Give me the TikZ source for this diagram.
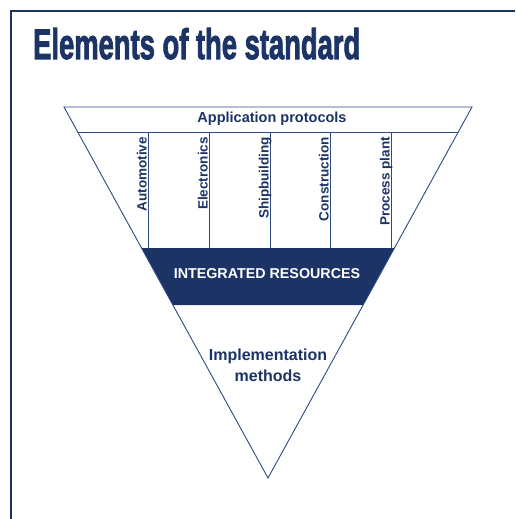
\documentclass[tikz,border=0pt]{standalone}
\usepackage{fontspec}
\setmainfont{Liberation Sans}
\newfontfamily\titlefont[FakeBold=2.5]{Liberation Sans Bold}
\usetikzlibrary{calc}
\definecolor{navy}{HTML}{1C3366}
\definecolor{lineblue}{HTML}{2C4A80}
\tikzset{
  edge/.style={draw=lineblue, line width=0.9pt},
  sector/.style={rotate=90, anchor=base east, inner sep=0pt, text=navy,
    font=\fontsize{13.5}{15}\selectfont\bfseries},
}
\begin{document}
\begin{tikzpicture}[x=1pt,y=-1pt]
\useasboundingbox (0,0) rectangle (515,519);
\fill[white] (0,0) rectangle (515,519);
% frame
\draw[navy, line width=2pt] (11,519) -- (11,11) -- (515,11);
% title
\node[anchor=base west, inner sep=0pt, text=navy] (title) at (33,59)
  {\resizebox{327pt}{31pt}{\titlefont Elements of the standard}};
% key points
\coordinate (tl) at (64,107);
\coordinate (tr) at (472,107);
\coordinate (apex) at (268,478);
\coordinate (l1) at (77.7,132);
\coordinate (r1) at (458.3,132);
\coordinate (l2) at (141.5,248);
\coordinate (r2) at (394.5,248);
\coordinate (l3) at (172.9,305);
\coordinate (r3) at (363.1,305);
% band
\fill[navy] (l2) -- (r2) -- (r3) -- (l3) -- cycle;
% outline
\draw[edge, line join=miter] (tl) -- (tr) -- (apex) -- cycle;
\draw[edge] (l1) -- (r1);
\foreach \x in {148,209,270,330,391} {
  \draw[edge] (\x,132) -- (\x,248);
}
% texts
\node[inner sep=0pt, text=navy, font=\fontsize{14.5}{16}\selectfont\bfseries] (ap) at (272,119) {Application protocols};
\node[sector] (auto) at (146.5,137) {Automotive};
\node[sector] (elec) at (207.5,137) {Electronics};
\node[sector] (ship) at (268.5,137) {Shipbuilding};
\node[sector] (cons) at (328.5,137) {Construction};
\node[sector] (proc) at (389.5,137) {Process plant};
\node[inner sep=0pt, text=white, font=\fontsize{14.3}{16}\selectfont\bfseries] (ir) at (267,274) {INTEGRATED RESOURCES};
\node[inner sep=0pt, text=navy, align=center, font=\fontsize{16}{21}\selectfont\bfseries] (im) at (268,365) {Implementation\\methods};
\end{tikzpicture}
\end{document}
